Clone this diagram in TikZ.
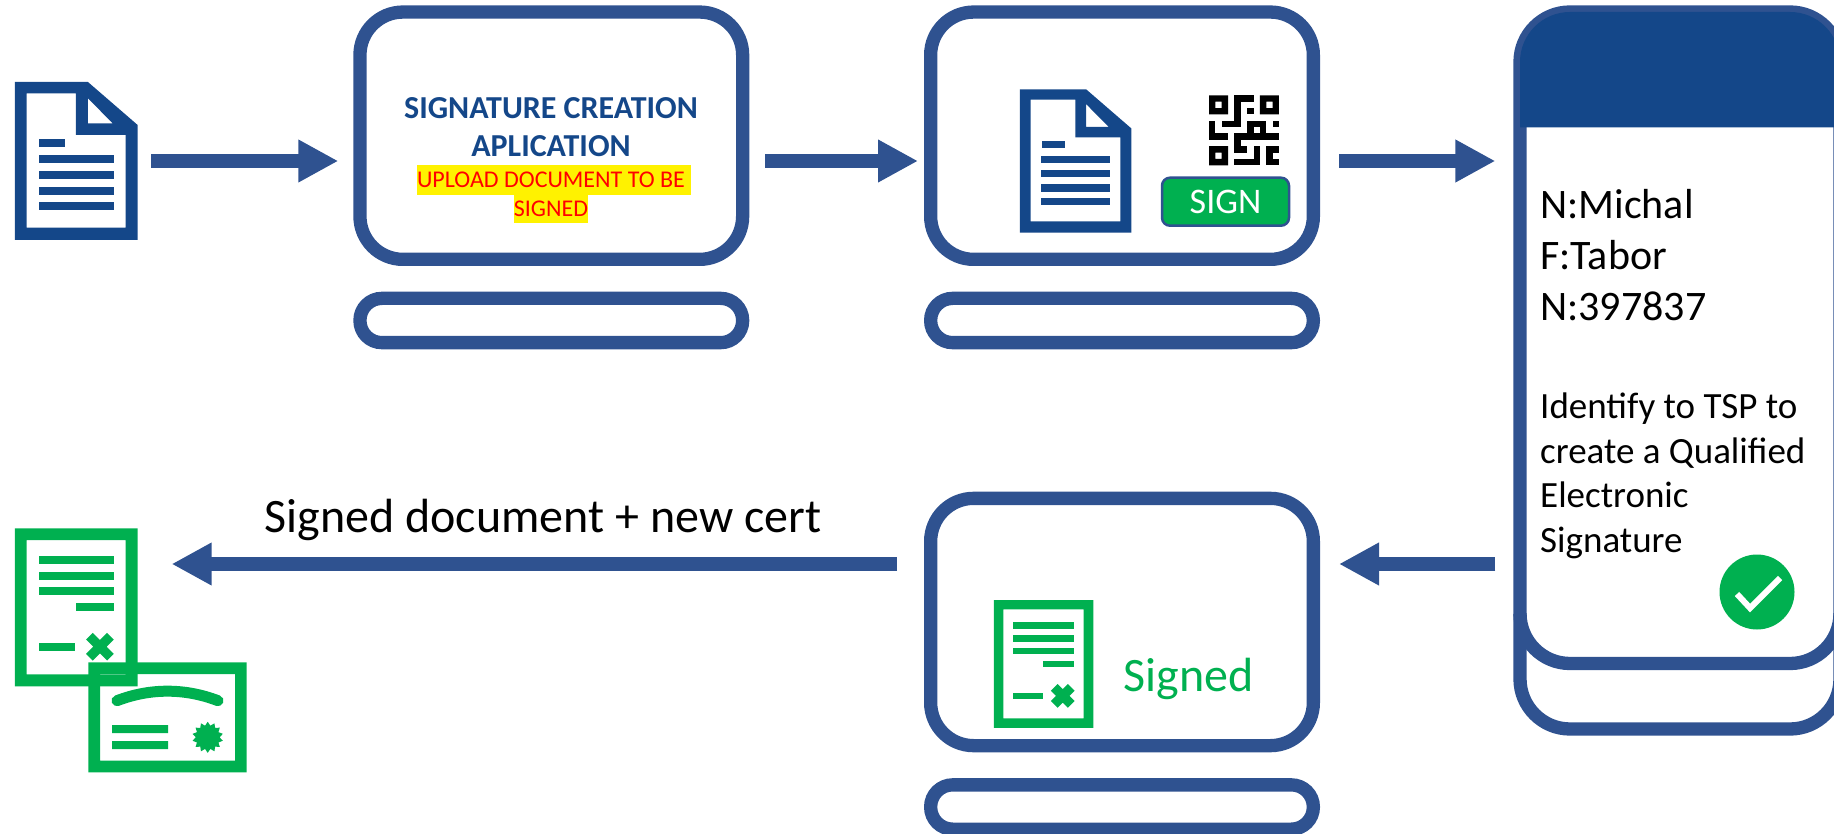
\documentclass[tikz,border=0pt]{standalone}
\usepackage{fontspec}
\setmainfont{Carlito}
\usetikzlibrary{arrows.meta, shapes.geometric}
\definecolor{myframe}{HTML}{2F5290}
\definecolor{mydoc}{HTML}{144789}
\definecolor{mygreen}{HTML}{00B050}
\newcommand{\TitleFont}{\fontsize{32}{37.5}\selectfont\bfseries}
\newcommand{\NoteFont}{\fontsize{24}{30}\selectfont}
\tikzset{
  screen/.style={draw=myframe, line width=13.3pt, rounded corners=43pt, minimum width=382.7pt, minimum height=247.3pt, inner sep=0pt},
  stand/.style={draw=myframe, line width=13.3pt, rounded corners=22pt, minimum width=382.7pt, minimum height=44.3pt, inner sep=0pt},
  phonebody/.style={draw=myframe, line width=13.3pt, rounded corners=50pt, minimum width=320pt, minimum height=717pt, inner sep=0pt},
  iconbox/.style={minimum width=122.7pt, minimum height=158pt, inner sep=0pt, outer sep=0pt},
  flow/.style={draw=myframe, line width=13.3pt, -{Triangle[length=40pt, width=40pt]}},
  note/.style={fill=yellow, text=red, inner sep=0pt, font=\NoteFont},
  docplain/.pic={
    \fill[mydoc, even odd rule] (0,0) -- (73,0) -- (122.7,43) -- (122.7,158) -- (0,158) -- cycle
      (11.7,11.3) -- (61,11.3) -- (61,53) -- (110.7,53) -- (110.7,145.7) -- (11.7,145.7) -- cycle
      (73,16.3) -- (73,41.3) -- (97.7,41.3) -- cycle;
    \fill[mydoc] (24,57) rectangle (50,65);
    \foreach \ly in {73,88.7,104.7,120}
      \fill[mydoc] (23.7,\ly) rectangle (99,\ly+8);
  },
  docsigned/.pic={
    \fill[mygreen, even odd rule] (0,0) rectangle (122.7,158) (11.7,11.7) rectangle (110.7,146);
    \foreach \ly in {27.7,43.7,59}
      \fill[mygreen] (24,\ly) rectangle (99,\ly+8);
    \fill[mygreen] (61,75) rectangle (99,83);
    \fill[mygreen] (24,114.7) rectangle (60,122.7);
    \draw[mygreen, line width=9.5pt] (74.5,107.9) -- (95.5,128.9) (74.5,128.9) -- (95.5,107.9);
  }
}
\begin{document}
\begin{tikzpicture}[x=1pt, y=-1pt]
  \useasboundingbox (0,0) rectangle (1834,834);
  \clip (0,0) rectangle (1834,834);

  \node[screen] (scrA) at (551.3,135.7) {};
  \node[stand]  (stA)  at (551.3,320.5) {};
  \node[screen] (scrB) at (1122,135.7) {};
  \node[stand]  (stB)  at (1122,320.5) {};
  \node[screen] (scrC) at (1122,622) {};
  \node[stand]  (stC)  at (1122,807) {};
  \node[phonebody] (phone) at (1680,370.5) {};

  \fill[mydoc] (1520,127.3) {[rounded corners=50pt] -- (1520,12) -- (1840,12)} -- (1840,127.3) -- cycle;
  \draw[myframe, line width=13.3pt] (1520,613.5) {[rounded corners=50pt] -- (1520,663.5) -- (1840,663.5)} -- (1840,613.5);

  \node[iconbox] (docA) at (76.3,161) {};
  \pic at (docA.north west) {docplain};
  \node[iconbox, scale=0.907] (docB) at (1075.6,161) {};
  \pic[scale=0.907] at (docB.north west) {docplain};
  \node[iconbox] (docC) at (76.3,607.3) {};
  \pic at (docC.north west) {docsigned};
  \node[iconbox, scale=0.81] (docD) at (1043.6,664) {};
  \pic[scale=0.81] at (docD.north west) {docsigned};

  \fill[mygreen, even odd rule] (88.3,662.3) rectangle (246.7,772.3) (100,674) rectangle (235,760.7);
  \draw[mygreen, line width=11pt, line cap=round] (117,700.7) .. controls (150,688) and (185,688) .. (218,700.7);
  \fill[mygreen] (112,725) rectangle (168,733) (112,741) rectangle (168,749);
  \node[star, star points=14, star point ratio=1.3, fill=mygreen, minimum size=31pt, inner sep=0pt] (seal) at (207.7,737.3) {};

  \begin{scope}[shift={(1209,95.3)}, x=6.36pt, y=-6.36pt]
    \foreach \cx/\cy in {0/0,8/0,0/8}
      \fill[black, even odd rule] (\cx,\cy) rectangle (\cx+3,\cy+3) (\cx+1,\cy+1) rectangle (\cx+2,\cy+2);
    \foreach \cx/\cy/\cw/\ch in {4/0/3/1,4/0/1/5,6/2/1/1,2/4/3/1,6/4/3/1,10/4/1/1,0/4/1/3,0/6/3/1,4/6/7/1,6/4/1/3,8/4/1/3,4/6/1/3,4/8/2/1,7/8/1/3,4/10/4/1,9/8/1/3,9/8/2/1,9/10/2/1}
      \fill[black] (\cx,\cy) rectangle (\cx+\cw,\cy+\ch);
  \end{scope}
  \node[draw=myframe, line width=2.5pt, fill=mygreen, rounded corners=8pt, minimum width=127pt, minimum height=48pt, text=white, inner sep=0pt, font=\fontsize{36}{36}\selectfont] (sign) at (1225.5,201.7) {SIGN};

  \node[mydoc, align=center, font=\TitleFont, inner sep=0pt] (title) at (551,127) {SIGNATURE CREATION\\APLICATION};
  \node[note, minimum width=274pt, minimum height=30pt] (upload) at (554,180) {UPLOAD DOCUMENT TO BE\hspace*{6pt}};
  \node[note, minimum width=74pt, minimum height=28pt] (signed) at (551,209) {SIGNED};

  \node[anchor=north west, align=left, inner sep=0pt, font=\fontsize{42}{51}\selectfont] (holder) at (1540,189.5) {N:Michal\\F:Tabor\\N:397837};
  \node[anchor=north west, align=left, inner sep=0pt, font=\fontsize{37}{44.5}\selectfont] (prompt) at (1540,393) {Identify to TSP to\\create a Qualified\\Electronic\\Signature};
  \node[circle, fill=mygreen, minimum size=75pt, inner sep=0pt] (okay) at (1757,592) {};
  \draw[white, line width=6pt] (1737,594) -- (1750,608) -- (1780,578);

  \node[inner sep=0pt, font=\fontsize{48}{48}\selectfont] (result) at (543,519.5) {Signed document + new cert};
  \node[mygreen, inner sep=0pt, font=\fontsize{48}{48}\selectfont] (done) at (1188.7,679) {Signed};

  \coordinate (back) at (1000,564);
  \draw[flow, shorten <=13.5pt, shorten >=15pt] (docA.east) -- (docA.east -| scrA.west);
  \draw[flow, shorten <=16pt, shorten >=6pt] (scrA.east |- docA.east) -- (scrB.west |- docA.east);
  \draw[flow, shorten <=19pt, shorten >=18pt] (scrB.east |- docA.east) -- (phone.west |- docA.east);
  \draw[flow, shorten <=18pt, shorten >=19pt] (phone.west |- back) -- (scrC.east |- back);
  \draw[flow, shorten <=27pt, shorten >=34pt] (scrC.west |- back) -- (docC.east |- back);
\end{tikzpicture}
\end{document}
